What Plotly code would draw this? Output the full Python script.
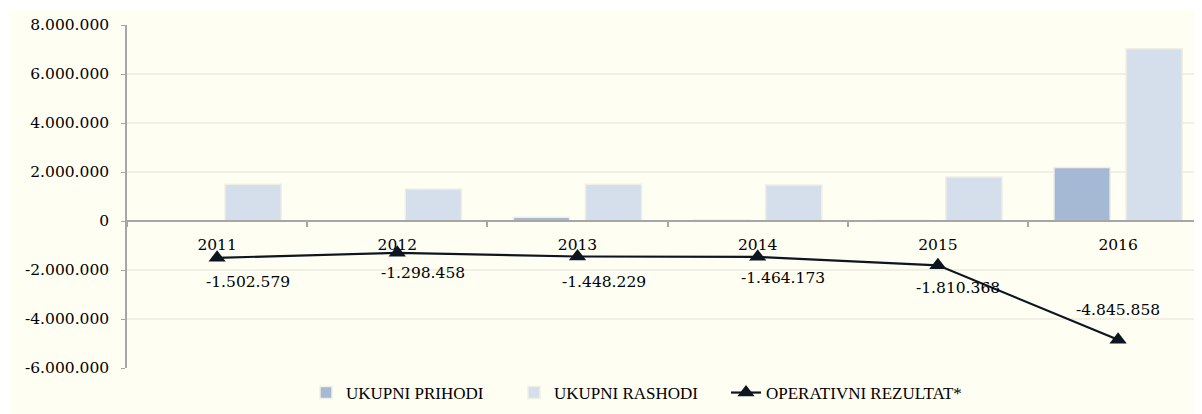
import plotly.graph_objects as go

# ---- data ----
categories = ["2011", "2012", "2013", "2014", "2015", "2016"]
prihodi = [5000, 15000, 150000, 45000, 35000, 2180000]
rashodi = [1500000, 1310000, 1500000, 1470000, 1800000, 7030000]
rezultat = [-1502579, -1298458, -1448229, -1464173, -1810368, -4845858]
y_ticks = [-6000000, -4000000, -2000000, 0, 2000000, 4000000, 6000000, 8000000]
y_ticklabels = ["-6.000.000", "-4.000.000", "-2.000.000", "0", "2.000.000",
                "4.000.000", "6.000.000", "8.000.000"]
series_names = ["UKUPNI PRIHODI", "UKUPNI RASHODI", "OPERATIVNI REZULTAT*"]

# label offsets (style, pixels)
label_dx = [31, 26, 26, 25, 20, 0]
label_dy = [-24, -20, -26, -21, -23, 30]
# legend text start positions (style, pixels in page)
legend_text_px = [346, 554, 766]

def fmt(v):
    return f"{v:,}".replace(",", ".")

FONT = "DejaVu Serif"
LFONT = "Liberation Serif"
CREAM = "#FFFEF2"
OFF = 8  # page body margin
W, H = 1202 - OFF, 414 - OFF
ML, MR, MT, MB = 127 - OFF, 0, 25 - OFF, 46
PW, PH = W - ML - MR, H - MT - MB
PLOT_LEFT, PLOT_BOTTOM = ML + OFF, MT + OFF + PH

fig = go.Figure()
fig.add_trace(go.Bar(x=categories, y=prihodi, name=series_names[0], legend="legend",
                     marker=dict(color="#A5B8D4", line=dict(color="#F0EFE4", width=1.5))))
fig.add_trace(go.Bar(x=categories, y=rashodi, name=series_names[1], legend="legend2",
                     marker=dict(color="#D5DFEB", line=dict(color="#F0EFE4", width=1.5))))
fig.add_trace(go.Scatter(x=categories, y=rezultat, name=series_names[2], mode="lines+markers",
                         legend="legend3",
                         line=dict(color="#0D1520", width=2.2),
                         marker=dict(symbol="triangle-up", size=15, color="#0D1520")))

annotations = []
for i, (v, dx, dy) in enumerate(zip(rezultat, label_dx, label_dy)):
    annotations.append(dict(x=i, y=v, xref="x", yref="y", text=fmt(v), showarrow=False,
                            xshift=dx, yshift=dy, font=dict(family=FONT, size=15.5, color="#000000")))

shapes = [dict(type="rect", xref="paper", yref="paper", layer="below",
               x0=(10 - OFF - ML) / PW, x1=1.02, y0=-(MB + 5) / PH, y1=1 + 15 / PH,
               fillcolor=CREAM, line=dict(width=0))]

def legend_cfg(text_px):
    return dict(orientation="h", xanchor="left", yanchor="middle",
                x=(text_px - 40 - PLOT_LEFT) / PW, y=(PLOT_BOTTOM - 393) / PH,
                font=dict(family=LFONT, size=17, color="#000000"),
                bgcolor="rgba(0,0,0,0)", borderwidth=0)

fig.update_layout(
    width=W, height=H,
    margin=dict(l=ML, r=MR, t=MT, b=MB),
    paper_bgcolor="#FFFFFF", plot_bgcolor=CREAM,
    barmode="group", bargap=0.2, bargroupgap=0.22,
    font=dict(family=FONT, size=15.5, color="#000000"),
    showlegend=True,
    legend=legend_cfg(legend_text_px[0]),
    legend2=legend_cfg(legend_text_px[1]),
    legend3=legend_cfg(legend_text_px[2]),
    annotations=annotations, shapes=shapes,
    xaxis=dict(type="category", range=[-0.5, -0.5 + PW / 180.2], anchor="free",
               position=6 / 14, showline=True, linecolor="#A6A6A6", linewidth=1.5,
               ticks="outside", tickson="boundaries", ticklen=5, tickcolor="#A6A6A6",
               tickwidth=1.5, showgrid=False, zeroline=False, ticklabelstandoff=10,
               tickfont=dict(family=FONT, size=15.5, color="#000000")),
    yaxis=dict(range=[-6000000, 8000000], tickvals=y_ticks, ticktext=y_ticklabels,
               showline=True, linecolor="#A6A6A6", linewidth=1.5, ticks="outside",
               ticklen=4, tickcolor="#A6A6A6", showgrid=True, gridcolor="#F1F0E4",
               gridwidth=1.5, zeroline=False, ticklabelstandoff=9,
               tickfont=dict(family=FONT, size=15.5, color="#000000")),
)

fig.write_html("out.html")
